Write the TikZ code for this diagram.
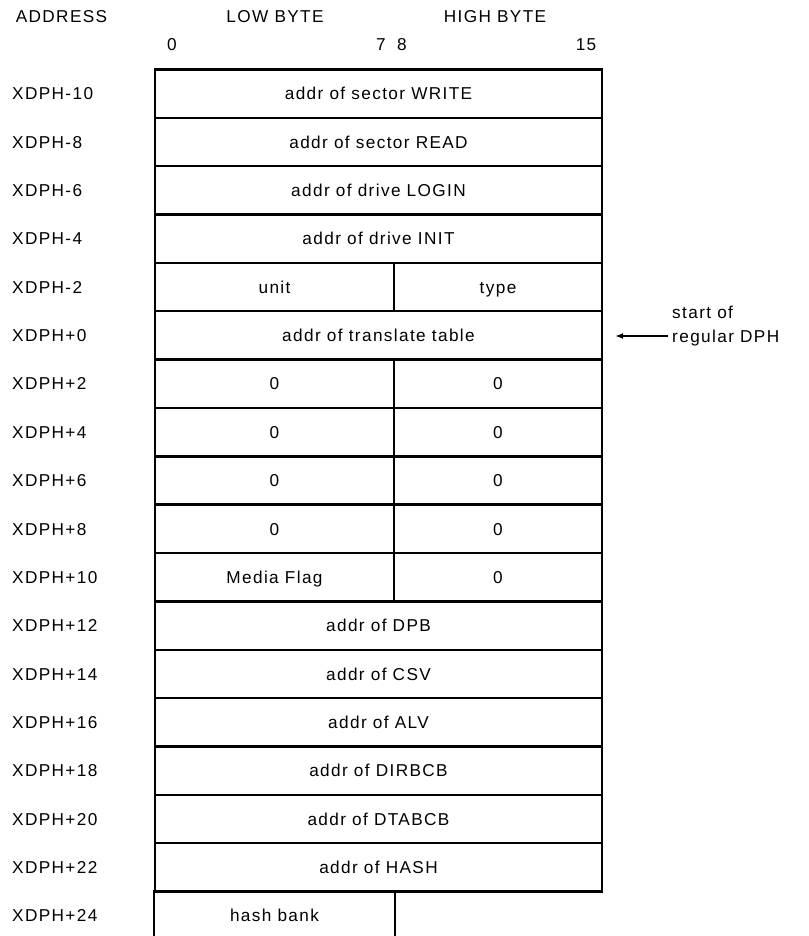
\documentclass[tikz,border=0pt]{standalone}
\usepackage{fontspec}
\setmainfont{Liberation Sans}[LetterSpace=8]
\usetikzlibrary{arrows.meta}
\tikzset{
  full/.style={draw, line width=2.4pt, minimum width=447pt, minimum height=48.35pt, inner sep=0pt, text height=12.3pt, text depth=0pt},
  lowb/.style={draw, line width=2.4pt, minimum width=239pt, minimum height=48.35pt, inner sep=0pt, text height=12.3pt, text depth=0pt},
  highb/.style={draw, line width=2.4pt, minimum width=208pt, minimum height=48.35pt, inner sep=0pt, text height=12.3pt, text depth=0pt},
  addr/.style={anchor=west, inner sep=0pt, text height=12.3pt, text depth=0pt},
  hdr/.style={inner sep=0pt, text height=12.3pt, text depth=0pt}
}
\begin{document}
\begin{tikzpicture}[x=1pt, y=-1pt, font=\fontsize{17.2}{20}\selectfont]
\useasboundingbox (0,0) rectangle (808,936);
% column headings
\node[hdr] (ha) at (61.5,16) {ADDRESS};
\node[hdr] (hl) at (275,16) {LOW BYTE};
\node[hdr] (hh) at (495,16) {HIGH BYTE};
\node[hdr] (b0) at (172,44) {0};
\node[hdr] (b7) at (381,44) {7};
\node[hdr] (b8) at (402,44) {8};
\node[hdr] (b15) at (586,44) {15};
% address column
\node[addr] (a0) at (12,93.7) {XDPH-10};
\node[addr] (a1) at (12,142.05) {XDPH-8};
\node[addr] (a2) at (12,190.4) {XDPH-6};
\node[addr] (a3) at (12,238.75) {XDPH-4};
\node[addr] (a4) at (12,287.1) {XDPH-2};
\node[addr] (a5) at (12,335.45) {XDPH+0};
\node[addr] (a6) at (12,383.8) {XDPH+2};
\node[addr] (a7) at (12,432.15) {XDPH+4};
\node[addr] (a8) at (12,480.5) {XDPH+6};
\node[addr] (a9) at (12,528.85) {XDPH+8};
\node[addr] (a10) at (12,577.2) {XDPH+10};
\node[addr] (a11) at (12,625.55) {XDPH+12};
\node[addr] (a12) at (12,673.9) {XDPH+14};
\node[addr] (a13) at (12,722.25) {XDPH+16};
\node[addr] (a14) at (12,770.6) {XDPH+18};
\node[addr] (a15) at (12,818.95) {XDPH+20};
\node[addr] (a16) at (12,867.3) {XDPH+22};
\node[addr] (a17) at (12,915.65) {XDPH+24};
% fields
\node[full] (write) at (378.5,93.7) {addr of sector WRITE};
\node[full] (read) at (378.5,142.05) {addr of sector READ};
\node[full] (login) at (378.5,190.4) {addr of drive LOGIN};
\node[full] (init) at (378.5,238.75) {addr of drive INIT};
\node[lowb] (unit) at (274.5,287.1) {unit};
\node[highb] (type) at (498,287.1) {type};
\node[full] (xlt) at (378.5,335.45) {addr of translate table};
\node[lowb] (z2l) at (274.5,383.8) {0};
\node[highb] (z2h) at (498,383.8) {0};
\node[lowb] (z4l) at (274.5,432.15) {0};
\node[highb] (z4h) at (498,432.15) {0};
\node[lowb] (z6l) at (274.5,480.5) {0};
\node[highb] (z6h) at (498,480.5) {0};
\node[lowb] (z8l) at (274.5,528.85) {0};
\node[highb] (z8h) at (498,528.85) {0};
\node[lowb] (mf) at (274.5,577.2) {Media Flag};
\node[highb] (z10h) at (498,577.2) {0};
\node[full] (dpb) at (378.5,625.55) {addr of DPB};
\node[full] (csv) at (378.5,673.9) {addr of CSV};
\node[full] (alv) at (378.5,722.25) {addr of ALV};
\node[full] (dirbcb) at (378.5,770.6) {addr of DIRBCB};
\node[full] (dtabcb) at (378.5,818.95) {addr of DTABCB};
\node[full] (hash) at (378.5,867.3) {addr of HASH};
\node[lowb, draw=none] (hbank) at (274.5,915.65) {hash bank};
\draw[line width=2.4pt] (hbank.north west) -- (hbank.south west);
\draw[line width=2.4pt] (hbank.north east) -- (hbank.south east);
% note on the right
\node[addr] (st) at (672,312) {start of};
\node[addr] (reg) at (672,336) {regular DPH};
\draw[-{Latex[length=8pt,width=6pt]}, line width=1.2pt, shorten <=4pt, shorten >=12pt] (reg.west) -- (xlt.east |- reg.west);
\end{tikzpicture}
\end{document}
